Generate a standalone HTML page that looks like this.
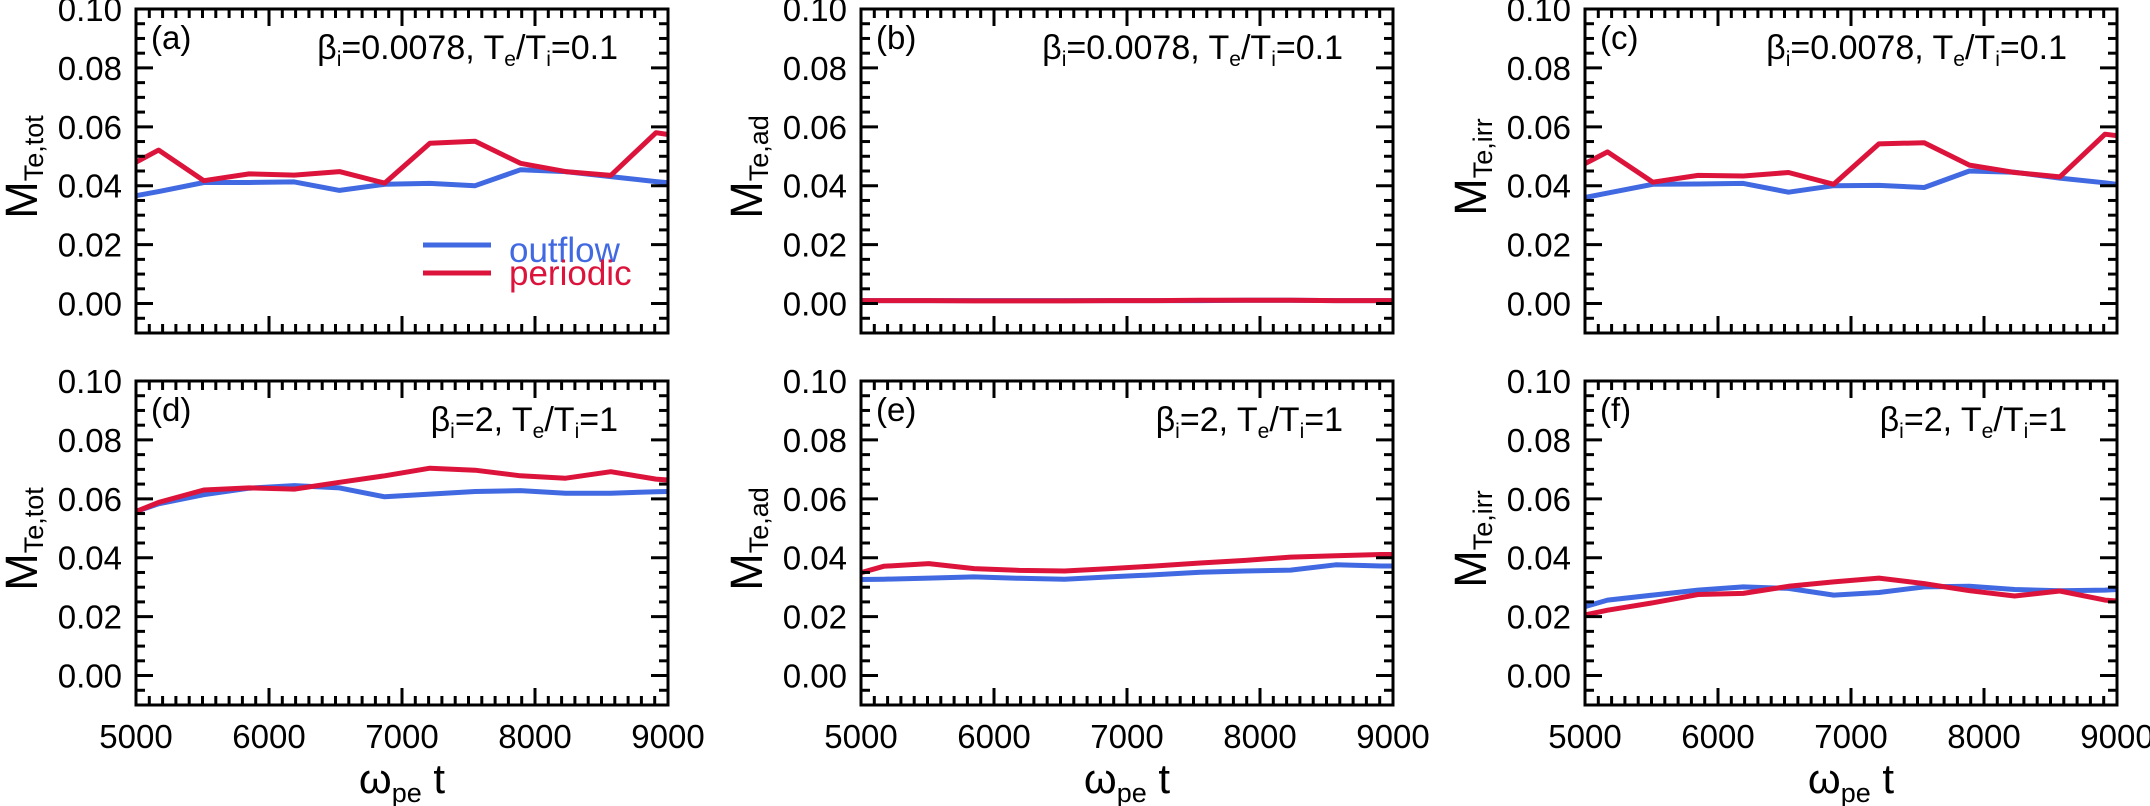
<!DOCTYPE html>
<html><head><meta charset="utf-8">
<style>
html,body{margin:0;padding:0;background:#fff;}
svg{display:block;font-family:"Liberation Sans",Arial,sans-serif;}
</style></head>
<body>
<svg id="fig" width="2150" height="806" viewBox="0 0 2150 806" xmlns="http://www.w3.org/2000/svg"></svg>
<script>
const times = [5000,5170,5510,5850,6190,6530,6870,7210,7550,7890,8230,8570,8910,9000];
const xTicks = [5000,6000,7000,8000,9000];
const yTicks = [0.00,0.02,0.04,0.06,0.08,0.10];
const yTickLabels = ["0.00","0.02","0.04","0.06","0.08","0.10"];
const aOutflow = [0.0366,0.038,0.0411,0.0411,0.0413,0.0384,0.0405,0.0408,0.040,0.0454,0.0448,0.0431,0.0414,0.041];
const aPeriodic = [0.048,0.0521,0.0417,0.044,0.0436,0.0448,0.0409,0.0544,0.0551,0.0476,0.0448,0.0435,0.058,0.0574];
const bOutflow = [0.001,0.001,0.001,0.001,0.001,0.001,0.001,0.001,0.001,0.0011,0.0011,0.001,0.001,0.001];
const bPeriodic = [0.001,0.001,0.001,0.0009,0.0009,0.0009,0.001,0.001,0.0011,0.0011,0.0011,0.001,0.001,0.001];
const cOutflow = [0.036,0.0375,0.0405,0.0406,0.0408,0.0378,0.040,0.0401,0.0394,0.045,0.0446,0.0426,0.041,0.0405];
const cPeriodic = [0.0475,0.0515,0.0412,0.0435,0.0433,0.0445,0.0405,0.0542,0.0546,0.047,0.0445,0.043,0.0575,0.057];
const dOutflow = [0.0557,0.0583,0.0614,0.0636,0.0645,0.0637,0.0607,0.0616,0.0625,0.0628,0.0619,0.0619,0.0624,0.0625];
const dPeriodic = [0.0557,0.0588,0.063,0.0637,0.0633,0.0656,0.0678,0.0704,0.0697,0.0678,0.067,0.0692,0.0667,0.0664];
const eOutflow = [0.0326,0.0327,0.0331,0.0335,0.033,0.0327,0.0335,0.0342,0.0351,0.0355,0.0358,0.0376,0.0372,0.0372];
const ePeriodic = [0.0349,0.0371,0.038,0.0363,0.0357,0.0355,0.0363,0.0372,0.0382,0.0391,0.0402,0.0407,0.0411,0.0411];
const fOutflow = [0.0234,0.0256,0.0273,0.029,0.0301,0.0296,0.0273,0.0282,0.0301,0.0303,0.0292,0.0288,0.029,0.0292];
const fPeriodic = [0.0206,0.0222,0.0247,0.0275,0.0279,0.0303,0.0318,0.0331,0.0312,0.0288,0.027,0.0287,0.0256,0.0253];

const NS="http://www.w3.org/2000/svg";
const svg=document.getElementById('fig');
const BLUE="#4169E1", RED="#DC143C";
function mk(tag,attrs,parent){const e=document.createElementNS(NS,tag);for(const k in attrs)e.setAttribute(k,attrs[k]);(parent||svg).appendChild(e);return e;}

const panels=[
 {id:'a',x0:136,y0:9,out:aOutflow,per:aPeriodic,sub:'Te,tot',top:true,legend:true},
 {id:'b',x0:861,y0:9,out:bOutflow,per:bPeriodic,sub:'Te,ad',top:true},
 {id:'c',x0:1585,y0:9,out:cOutflow,per:cPeriodic,sub:'Te,irr',top:true},
 {id:'d',x0:136,y0:381,out:dOutflow,per:dPeriodic,sub:'Te,tot',top:false},
 {id:'e',x0:861,y0:381,out:eOutflow,per:ePeriodic,sub:'Te,ad',top:false},
 {id:'f',x0:1585,y0:381,out:fOutflow,per:fPeriodic,sub:'Te,irr',top:false}
];
const W=532,H=324,YMIN=-0.01,YMAX=0.10;

panels.forEach(p=>{
 const g=mk('g',{});
 
 
 const sx=t=>p.x0+(t-5000)/4000*W;
 const sy=v=>p.y0+(YMAX-v)/(YMAX-YMIN)*H;
 const yb=p.y0+H;
 [[p.out,BLUE,'outflow'],[p.per,RED,'periodic']].forEach(([arr,col,nm])=>{
  const pts=times.map((t,i)=>sx(t).toFixed(1)+','+sy(arr[i]).toFixed(1)).join(' ');
  const pl=mk('polyline',{points:pts,fill:'none',stroke:col,'stroke-width':5,'stroke-linejoin':'round'},g);
  
  
 });
 const tk=mk('g',{stroke:'#000','stroke-width':3},g);
 
 
 for(let t=5000;t<=9000;t+=100){
  const L=(t%1000===0)?17:9,x=sx(t);
  mk('line',{x1:x,y1:yb,x2:x,y2:yb-L},tk);
  mk('line',{x1:x,y1:p.y0,x2:x,y2:p.y0+L},tk);
 }
 for(let k=-2;k<=20;k++){
  const v=k*0.005;const L=(k%4===0)?17:9,y=sy(v);
  mk('line',{x1:p.x0,y1:y,x2:p.x0+L,y2:y},tk);
  mk('line',{x1:p.x0+W,y1:y,x2:p.x0+W-L,y2:y},tk);
 }
 const fr=mk('rect',{x:p.x0,y:p.y0,width:W,height:H,fill:'none',stroke:'#000','stroke-width':3},g);
 
 
 yTicks.forEach((v,i)=>{
  const t=mk('text',{x:p.x0-14,y:sy(v)+12,'font-size':33,'text-anchor':'end'},g);
  
  
  t.textContent=yTickLabels[i];
 });
 if(!p.top){
  xTicks.forEach(v=>{
   const t=mk('text',{x:sx(v),y:748,'font-size':33,'text-anchor':'middle'},g);
   
   
   t.textContent=v;
  });
  const xt=mk('text',{x:p.x0+W/2,y:793,'font-size':42,'text-anchor':'middle'},g);
  
  
  xt.innerHTML='ω<tspan font-size="27" dy="9">pe</tspan><tspan dy="-9"> t</tspan>';
 }
 const cy=p.y0+H/2-4;
 const yt=mk('text',{x:0,y:0,'font-size':45,'text-anchor':'middle',transform:'translate('+(p.x0-99)+','+cy+') rotate(-90)'},g);
 
 
 yt.innerHTML='M<tspan font-size="27" dy="6">'+p.sub+'</tspan>';
 const pl=mk('text',{x:p.x0+15,y:p.y0+40,'font-size':33},g);
 
 
 pl.textContent='('+p.id+')';
 const tt=mk('text',{x:p.x0+W-50,y:p.y0+50,'font-size':34,'text-anchor':'end'},g);
 
 
 if(p.top) tt.innerHTML='β<tspan font-size="21" dy="7">i</tspan><tspan dy="-7">=0.0078, T</tspan><tspan font-size="21" dy="7">e</tspan><tspan dy="-7">/T</tspan><tspan font-size="21" dy="7">i</tspan><tspan dy="-7">=0.1</tspan>';
 else tt.innerHTML='β<tspan font-size="21" dy="7">i</tspan><tspan dy="-7">=2, T</tspan><tspan font-size="21" dy="7">e</tspan><tspan dy="-7">/T</tspan><tspan font-size="21" dy="7">i</tspan><tspan dy="-7">=1</tspan>';
 if(p.legend){
  const lg=mk('g',{},g);
  
  
  const l1=mk('line',{x1:423,y1:245,x2:491,y2:245,stroke:BLUE,'stroke-width':5},lg);
  
  
  const t1=mk('text',{x:509,y:262,'font-size':35,fill:BLUE},lg);
  
  
  t1.textContent='outflow';
  const l2=mk('line',{x1:423,y1:273,x2:491,y2:273,stroke:RED,'stroke-width':5},lg);
  
  
  const t2=mk('text',{x:509,y:285,'font-size':35,fill:RED},lg);
  
  
  t2.textContent='periodic';
 }
});
</script>
</body></html>
